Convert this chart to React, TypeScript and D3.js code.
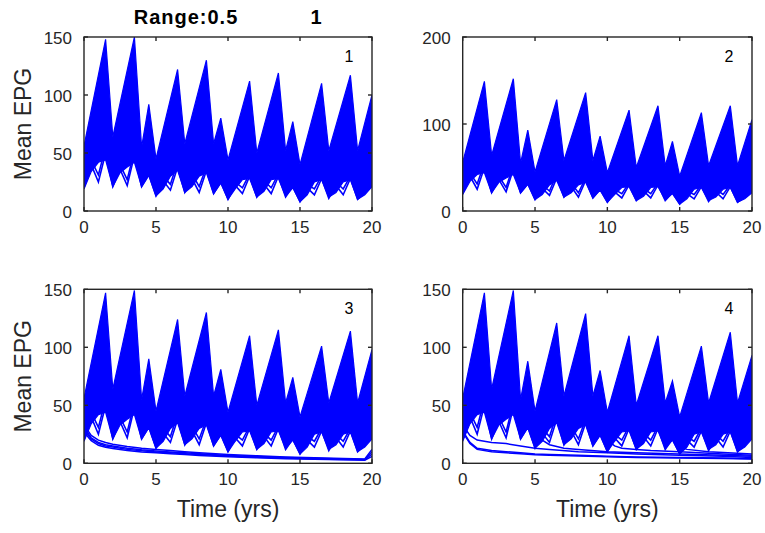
import React from "react";
import * as d3 from "d3";

// ---------- data ----------
const X_TICKS = [0, 5, 10, 15, 20];
const Y_TICKS_150 = [0, 50, 100, 150];
const Y_TICKS_200 = [0, 100, 200];

// upper envelope of the bundle of runs (time, value)
const T_UP = [0, 1.5, 2, 3.5, 4, 4.5, 5, 6.5, 7, 8.5, 9, 9.5, 10, 11.5, 12, 13.5, 14, 14.5, 15, 16.5, 17, 18.5, 19, 20];
const UP1 = [56, 148, 64, 150, 55, 92, 45, 122, 58, 130, 58, 80, 44, 112, 50, 119, 52, 77, 40, 110, 52, 117, 52, 100];
const UP2 = [56, 149, 64, 152, 55, 93, 45, 128, 58, 136, 58, 86, 44, 116, 50, 121, 52, 80, 40, 113, 52, 121, 52, 105];
const UP3 = [56, 147, 64, 149, 55, 90, 45, 124, 58, 130, 58, 81, 44, 110, 50, 115, 52, 74, 40, 101, 52, 114, 52, 98];
const UP4 = [56, 147, 64, 149, 55, 88, 45, 121, 58, 129, 58, 80, 44, 110, 50, 110, 52, 71, 40, 101, 52, 113, 52, 93];

// lower edge of the dense part of the bundle
const T_LO = [0, 0.5, 1, 1.5, 2, 2.5, 3, 3.5, 4, 4.5, 5, 5.5, 6, 6.5, 7, 7.5, 8, 8.5, 9, 9.5, 10, 10.5, 11, 11.5, 12, 12.5, 13, 13.5, 14, 14.5, 15, 15.5, 16, 16.5, 17, 17.5, 18, 18.5, 19, 19.5, 20];
const LO = [19, 34, 42, 44, 21, 33, 38, 42, 21, 31, 13, 19, 30, 35, 16, 21, 30, 33, 15, 24, 10, 19, 27, 28, 12, 17, 27, 28, 13, 20, 8, 14, 25, 27, 12, 16, 25, 27, 10, 14, 21];

// the lowest individual runs (saw-tooth lines below the dense part)
const T_OUT = [0, 0.5, 1, 1.5, 2, 2.5, 3, 3.5, 4, 4.5, 5, 5.5, 6, 6.5, 7, 7.5, 8, 8.5, 9, 9.5, 10, 10.5, 11, 11.5, 12, 12.5, 13, 13.5, 14, 14.5, 15, 15.5, 16, 16.5, 17, 17.5, 18, 18.5, 19, 19.5, 20];
const OUT1 = [20, 40, 25, 50, 21, 36, 22, 48, 21, 31, 13, 26, 18, 38, 16, 28, 16, 35, 15, 25, 10, 22, 15, 30, 12, 23, 15, 30, 12, 21, 8, 20, 14, 28, 11, 22, 14, 28, 10, 16, 22];
const OUT2 = [22, 44, 31, 55, 23, 40, 27, 52, 23, 33, 15, 30, 23, 42, 18, 32, 21, 38, 17, 27, 12, 25, 20, 32, 14, 26, 20, 32, 14, 23, 10, 23, 19, 30, 13, 25, 19, 30, 12, 18, 24];

// decaying runs, panel 3
const T_D3 = [0, 0.5, 1, 1.5, 2, 3, 4, 5, 6, 7, 8, 10, 12, 14, 16, 18, 19.5, 20];
const D3A = [33, 24, 20, 18, 16.5, 14.5, 13, 12, 11, 10, 9, 7.5, 6.5, 5.5, 4.8, 4.2, 3.8, 12];
const D3B = [31, 22, 18, 16, 15, 13, 11.7, 10.7, 9.8, 9, 8.2, 6.8, 5.8, 5, 4.3, 3.7, 3.3, 10];
const D3C = [29, 21, 17, 15, 14, 12, 10.8, 9.8, 9, 8.2, 7.5, 6.2, 5.2, 4.5, 3.8, 3.3, 3, 8];
const D3D = [27, 19.5, 15.5, 13.8, 12.8, 11, 9.8, 9, 8.2, 7.5, 6.8, 5.6, 4.7, 4, 3.4, 3, 2.7, 6];

// decaying runs, panel 4
const T_D4A = [0, 0.5, 1, 2, 3, 4, 5, 6, 8, 10, 12, 15, 18, 20];
const D4A1 = [33, 24, 20, 18, 17, 15, 13, 12, 10, 9, 8, 7, 6, 5];
const D4A2 = [28, 18, 13, 11, 10, 9, 8, 7.5, 7, 6, 5.5, 5, 4.5, 4];
const D4A3 = [27, 17, 12, 10, 9, 8.2, 7.4, 7, 6.4, 5.6, 5, 4.6, 4.1, 3.6];
const T_D4B = [5, 5.5, 6, 7, 8, 10, 12, 15, 18, 20];
const D4B = [25, 20, 16, 13, 12, 10, 9, 8, 7, 6];
const T_D4C = [10, 10.5, 11, 12, 13, 15, 18, 20];
const D4C = [20, 15, 13, 12, 11, 10, 8, 7];
const T_D4D = [15, 15.5, 17, 20];
const D4D = [14, 12, 10, 8];

const TITLE_LEFT = "Range:0.5";
const TITLE_RIGHT = "1";
const Y_LABEL = "Mean EPG";
const X_LABEL = "Time (yrs)";

type Series = { t: number[]; v: number[] };

const zip = (t: number[], v: number[]): [number, number][] => t.map((d, i) => [d, v[i]]);

const FONT = "'Liberation Sans', Arial, Helvetica, sans-serif";
const AX = "#262626";
const BLUE = "#0000ff";

const OUTS: Series[] = [{ t: T_OUT, v: OUT1 }, { t: T_OUT, v: OUT2 }];

const panels = [
  { id: "1", x0: 84, x1: 372, y0: 37, y1: 211, yMax: 150, yTicks: Y_TICKS_150, up: UP1, extra: [] as Series[], yLabel: true, xLabel: false },
  { id: "2", x0: 462.7, x1: 752, y0: 37, y1: 211, yMax: 200, yTicks: Y_TICKS_200, up: UP2, extra: [] as Series[], yLabel: false, xLabel: false },
  {
    id: "3", x0: 84, x1: 372, y0: 289.3, y1: 463.3, yMax: 150, yTicks: Y_TICKS_150, up: UP3,
    extra: [{ t: T_D3, v: D3A }, { t: T_D3, v: D3B }, { t: T_D3, v: D3C }, { t: T_D3, v: D3D }], yLabel: true, xLabel: true,
  },
  {
    id: "4", x0: 462.7, x1: 752, y0: 289.3, y1: 463.3, yMax: 150, yTicks: Y_TICKS_150, up: UP4,
    extra: [
      { t: T_D4A, v: D4A1 }, { t: T_D4A, v: D4A2 }, { t: T_D4A, v: D4A3 }, { t: T_D4B, v: D4B }, { t: T_D4C, v: D4C }, { t: T_D4D, v: D4D },
    ], yLabel: false, xLabel: true,
  },
];

function Panel({ p }: { p: (typeof panels)[number] }) {
  const x = d3.scaleLinear().domain([0, 20]).range([p.x0, p.x1]);
  const y = d3.scaleLinear().domain([0, p.yMax]).range([p.y1, p.y0]);
  const line = d3.line<[number, number]>().x((d) => x(d[0])).y((d) => y(d[1]));
  const upper = zip(T_UP, p.up);
  const lower = zip(T_LO, LO).reverse();
  const poly = line([...upper, ...lower]) + "Z";
  const clipId = "clip" + p.id;
  const tl = 4;
  return (
    <g>
      <defs>
        <clipPath id={clipId}>
          <rect x={p.x0} y={p.y0} width={p.x1 - p.x0} height={p.y1 - p.y0} />
        </clipPath>
      </defs>
      <rect x={p.x0} y={p.y0} width={p.x1 - p.x0} height={p.y1 - p.y0} fill="#fff" />
      <g clipPath={`url(#${clipId})`}>
        <path d={poly} fill={BLUE} stroke={BLUE} strokeWidth={1.2} strokeLinejoin="miter" />
        {OUTS.map((s, i) => (
          <path key={"o" + i} d={line(zip(s.t, s.v)) || ""} fill="none" stroke={BLUE} strokeWidth={1.6} />
        ))}
        {p.extra.map((s, i) => (
          <path key={i} d={line(zip(s.t, s.v)) || ""} fill="none" stroke={BLUE} strokeWidth={1.5} />
        ))}
      </g>
      {/* box */}
      <rect x={p.x0} y={p.y0} width={p.x1 - p.x0} height={p.y1 - p.y0} fill="none" stroke={AX} strokeWidth={1.4} />
      {X_TICKS.map((t) => (
        <g key={"x" + t}>
          <line x1={x(t)} x2={x(t)} y1={p.y1} y2={p.y1 - tl} stroke={AX} strokeWidth={1.4} />
          <line x1={x(t)} x2={x(t)} y1={p.y0} y2={p.y0 + tl} stroke={AX} strokeWidth={1.4} />
          <text x={x(t)} y={p.y1 + 22} textAnchor="middle" fontSize={17} fill={AX} fontFamily={FONT}>
            {t}
          </text>
        </g>
      ))}
      {p.yTicks.map((t) => (
        <g key={"y" + t}>
          <line x1={p.x0} x2={p.x0 + tl} y1={y(t)} y2={y(t)} stroke={AX} strokeWidth={1.4} />
          <line x1={p.x1} x2={p.x1 - tl} y1={y(t)} y2={y(t)} stroke={AX} strokeWidth={1.4} />
          <text x={p.x0 - 12} y={y(t)} dy="0.42em" textAnchor="end" fontSize={17} fill={AX} fontFamily={FONT}>
            {t}
          </text>
        </g>
      ))}
      <text x={p.x1 - 23} y={p.y0 + 25} textAnchor="middle" fontSize={16} fill="#000" fontFamily={FONT}>
        {p.id}
      </text>
      {p.yLabel && (
        <text
          transform={`translate(${p.x0 - 53},${(p.y0 + p.y1) / 2}) rotate(-90)`}
          textAnchor="middle"
          fontSize={23}
          fill={AX}
          fontFamily={FONT}
        >
          {Y_LABEL}
        </text>
      )}
      {p.xLabel && (
        <text x={(p.x0 + p.x1) / 2} y={p.y1 + 54} textAnchor="middle" fontSize={23} fill={AX} fontFamily={FONT}>
          {X_LABEL}
        </text>
      )}
    </g>
  );
}

export default function App() {
  return (
    <svg
      width={765}
      height={533}
      style={{ position: "absolute", left: 0, top: 0, background: "#fff" }}
    >
      <rect width={765} height={533} fill="#fff" />
      {panels.map((p) => (
        <Panel key={p.id} p={p} />
      ))}
      <text x={186} y={24} textAnchor="middle" fontSize={20} fontWeight="bold" letterSpacing={1} fill="#000" fontFamily={FONT}>
        {TITLE_LEFT}
      </text>
      <text x={316} y={24} textAnchor="middle" fontSize={20} fontWeight="bold" fill="#000" fontFamily={FONT}>
        {TITLE_RIGHT}
      </text>
    </svg>
  );
}
